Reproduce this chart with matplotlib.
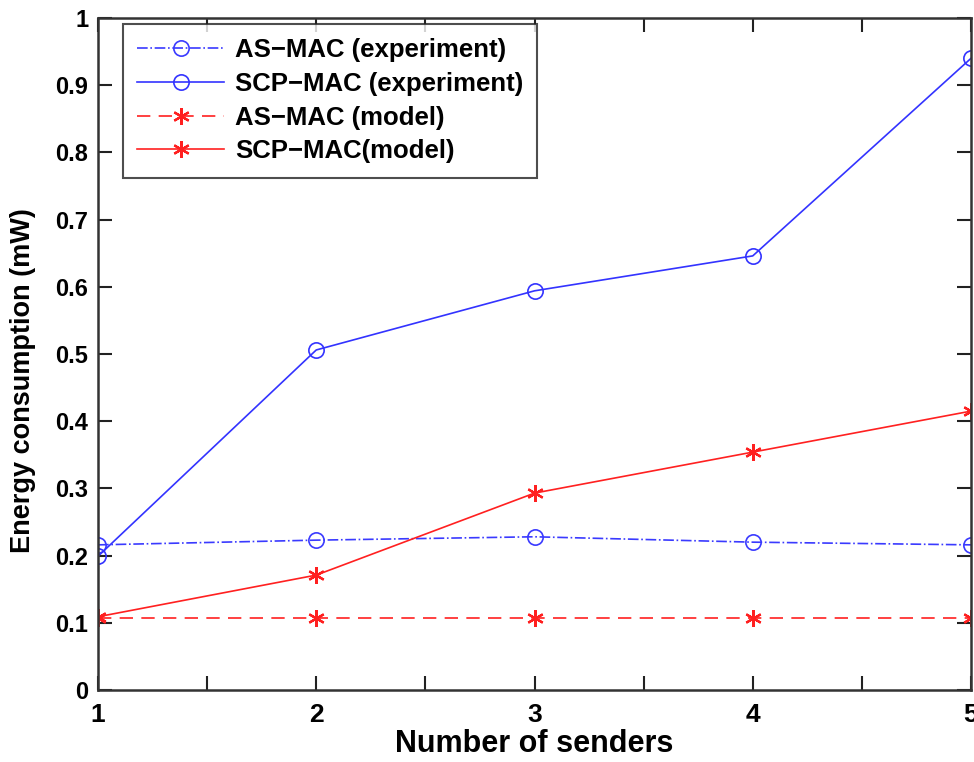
import matplotlib
matplotlib.use("Agg")
import matplotlib.pyplot as plt
from matplotlib.ticker import FixedLocator

plt.rcParams['font.family'] = ['Liberation Sans', 'DejaVu Sans']

senders = [1, 2, 3, 4, 5]
as_mac_exp = [0.216, 0.223, 0.228, 0.220, 0.216]
scp_mac_exp = [0.199, 0.506, 0.594, 0.646, 0.940]
as_mac_model = [0.107, 0.107, 0.107, 0.107, 0.107]
scp_mac_model = [0.109, 0.171, 0.293, 0.354, 0.415]

yticks = [0, 0.1, 0.2, 0.3, 0.4, 0.5, 0.6, 0.7, 0.8, 0.9, 1]
ytick_labels = ['0', '0.1', '0.2', '0.3', '0.4', '0.5', '0.6', '0.7', '0.8', '0.9', '1']
xticks = [1, 2, 3, 4, 5]
xminor = [1.5, 2.5, 3.5, 4.5]

labels = ['AS\u2212MAC (experiment)', 'SCP\u2212MAC (experiment)',
          'AS\u2212MAC (model)', 'SCP\u2212MAC(model)']

fig = plt.figure(figsize=(9.74, 7.62), dpi=100)
ax = fig.add_axes([98/974, 72/762, 873/974, 672/762])

star = (6, 2, 0)
ax.plot(senders, as_mac_exp, color='#3a3aff', ls='-.', lw=1.2, marker='o',
        mfc='none', ms=11, mew=1.2, label=labels[0])
ax.plot(senders, scp_mac_exp, color='#3333ff', ls='-', lw=1.2, marker='o',
        mfc='none', ms=11, mew=1.2, label=labels[1])
ax.plot(senders, as_mac_model, color='#ff2020', ls=(0, (8, 5)), lw=1.2, marker=star,
        ms=12, mew=1.6, label=labels[2])
ax.plot(senders, scp_mac_model, color='#ff2020', ls='-', lw=1.2, marker=star,
        ms=12, mew=1.6, label=labels[3])

ax.set_xlim(1, 5)
ax.set_ylim(0, 1)
ax.xaxis.set_major_locator(FixedLocator(xticks))
ax.xaxis.set_minor_locator(FixedLocator(xminor))
ax.yaxis.set_major_locator(FixedLocator(yticks))
ax.set_yticklabels(ytick_labels)
ax.set_xticklabels([str(v) for v in xticks])
ax.tick_params(axis='both', which='both', direction='in', top=True, right=True,
               length=10, width=1.5, color='#222222')
ax.tick_params(axis='x', which='major', labelsize=19, pad=9)
ax.tick_params(axis='y', which='major', labelsize=17, pad=7)
for lbl in ax.get_xticklabels() + ax.get_yticklabels():
    lbl.set_fontweight('bold')
for sp in ax.spines.values():
    sp.set_linewidth(1.8)
    sp.set_color('#333333')

ax.set_xlabel('Number of senders', fontsize=22, fontweight='bold', labelpad=2)
ax.set_ylabel('Energy consumption (mW)', fontsize=19.5, fontweight='bold')
ax.yaxis.set_label_coords(-0.071, 0.461)

leg = ax.legend(loc='upper left', bbox_to_anchor=(25/873, 1 - 6/672), borderaxespad=0,
                prop={'weight': 'bold', 'size': 18.5}, frameon=True, fancybox=False,
                edgecolor='#222222', handlelength=3.4, labelspacing=0.38,
                borderpad=0.55, handletextpad=0.4)
leg.get_frame().set_linewidth(1.5)

fig.savefig('out.png', dpi=100)
